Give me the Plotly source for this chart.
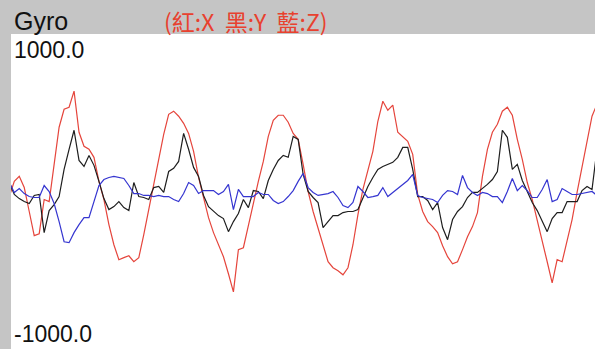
import plotly.graph_objects as go

# Gyroscope samples (deg/s) for the three axes, one value per sample tick
gyro_x = [-32, 64, 96, 25, -127, -280, -268, -51, -64, 191,
          408, 522, 535, 637, 376, 287, 268, 217, 64, -51,
          -210, -338, -433, -420, -408, -446, -420, -274, -102, 45,
          204, 363, 490, 510, 478, 433, 369, 255, 89, -38,
          -166, -261, -344, -414, -522, -637, -369, -357, -217, -70,
          64, 191, 350, 452, 484, 484, 440, 369, 331, 172,
          0, -127, -236, -350, -446, -484, -503, -529, -484, -338,
          -147, 13, 127, 255, 446, 573, 516, 548, 376, 350,
          319, 236, -19, -127, -191, -223, -261, -344, -414, -459,
          -446, -369, -287, -223, -134, 96, 268, 376, 427, 510,
          535, 484, 331, 204, 57, -51, -178, -306, -446, -580,
          -433, -446, -306, -178, -6, 159, 331, 478, 554]

gyro_y = [57, -19, -45, -64, -76, -25, -19, -261, -121, -83,
          -32, 140, 268, 389, 197, 159, 229, 166, 64, -45,
          -115, -96, -64, -102, -121, 57, -32, -38, -51, 25,
          32, -6, 127, 147, 191, 369, 268, 153, 96, -25,
          -96, -127, -153, -172, -255, -191, -140, -51, -102, 6,
          0, -45, 70, 140, 197, 229, 217, 350, 331, 108,
          0, -38, -70, -229, -191, -153, -153, -134, -127, -127,
          -115, -38, 32, 89, 140, 159, 172, 185, 217, 280,
          280, 140, -32, -32, -57, -115, -70, -229, -306, -178,
          -127, -96, -38, -6, -6, 19, 45, 76, 127, 389,
          344, 140, 172, 70, -6, -70, -121, -185, -255, -172,
          -134, -134, -64, -64, -64, 6, 32, 13, 268]

gyro_z = [57, -6, 19, -13, -32, -38, -38, 38, 0, -76,
          -191, -319, -325, -261, -210, -166, -166, -57, 38, 76,
          89, 96, 89, 83, 38, -13, -13, -25, -25, -32,
          -25, -32, -32, -51, -64, -13, 57, 38, -13, 6,
          6, 6, -19, 0, 45, -115, 13, -32, -32, -32,
          -6, -19, -19, -57, -76, -64, -32, 6, 64, 115,
          25, -6, -25, -19, -13, 0, -38, -89, -102, -70,
          32, 0, -38, -32, -25, 25, -32, -6, 19, 45,
          70, 108, -25, -38, -45, -51, -70, -25, 6, 0,
          -19, 102, 25, -6, -25, -6, -13, -32, -32, -70,
          0, 83, 6, 38, 6, -38, -38, 13, 76, -64,
          -51, 19, 0, -19, -19, -13, -6, 0, -25]

samples = list(range(len(gyro_x)))

Y_TOP_LABEL = "1000.0"
Y_BOTTOM_LABEL = "-1000.0"
Y_LIMIT = 1000

W, H = 595, 349
HEADER_H = 34
STRIP_W = 11

fig = go.Figure()
for values, color in ((gyro_x, "#e5453c"), (gyro_y, "#1e1e1e"), (gyro_z, "#3535d0")):
    fig.add_trace(go.Scatter(
        x=samples, y=values, mode="lines",
        line=dict(color=color, width=1.2),
        hoverinfo="skip", showlegend=False,
    ))

plot_top = 1 - HEADER_H / H
fig.update_layout(
    width=W, height=H,
    margin=dict(l=0, r=0, t=0, b=0),
    paper_bgcolor="white", plot_bgcolor="white",
    xaxis=dict(domain=[STRIP_W / W, 1], range=[0.34, 117.6],
               visible=False, fixedrange=True),
    yaxis=dict(domain=[0, plot_top], range=[-Y_LIMIT, Y_LIMIT],
               visible=False, fixedrange=True),
    shapes=[
        dict(type="rect", xref="paper", yref="paper", x0=0, x1=1,
             y0=plot_top, y1=1, fillcolor="#c5c5c5", line_width=0, layer="above"),
        dict(type="rect", xref="paper", yref="paper", x0=0, x1=STRIP_W / W,
             y0=0, y1=1, fillcolor="#c5c5c5", line_width=0, layer="above"),
    ],
    annotations=[
        dict(text="Gyro", x=12 / W, y=1 - 5 / H, xref="paper", yref="paper",
             xanchor="left", yanchor="top", showarrow=False,
             font=dict(family="Liberation Sans, Arial", size=25, color="#111111")),
        dict(text="(紅:X  黑:Y  藍:Z)", x=162 / W, y=1 - 2 / H, xref="paper", yref="paper",
             xanchor="left", yanchor="top", showarrow=False,
             font=dict(family="Noto Sans CJK TC, Liberation Sans", size=23, color="#e8412f")),
        dict(text=Y_TOP_LABEL, x=12 / W, y=1 - 35 / H, xref="paper", yref="paper",
             xanchor="left", yanchor="top", showarrow=False,
             font=dict(family="Liberation Sans, Arial", size=23, color="#111111")),
        dict(text=Y_BOTTOM_LABEL, x=12 / W, y=0, xref="paper", yref="paper",
             xanchor="left", yanchor="bottom", showarrow=False,
             font=dict(family="Liberation Sans, Arial", size=23, color="#111111")),
    ],
)

fig.write_html("out.html")
